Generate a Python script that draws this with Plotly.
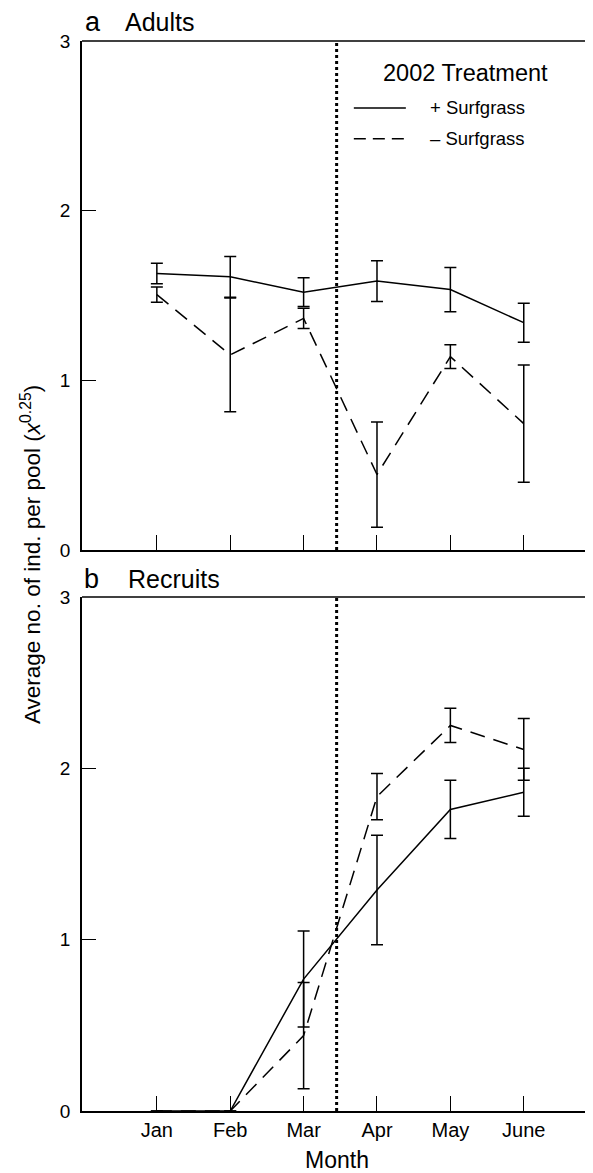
import plotly.graph_objects as go

# ---------------- data ----------------
months = ["Jan", "Feb", "Mar", "Apr", "May", "June"]
month_pos = [1, 2, 3, 4, 5, 6]
treatment_x = 3.45  # time of the 2002 treatment (dotted line)

# Panel a: Adults
adults_plus = [1.63, 1.61, 1.52, 1.585, 1.535, 1.34]
adults_plus_err = [0.06, 0.12, 0.085, 0.12, 0.13, 0.115]
adults_minus = [1.505, 1.15, 1.365, 0.445, 1.14, 0.745]
adults_minus_err = [0.045, 0.335, 0.06, 0.31, 0.07, 0.345]

# Panel b: Recruits
recruits_plus = [0.0, 0.0, 0.77, 1.29, 1.76, 1.86]
recruits_plus_err = [None, None, 0.28, 0.32, 0.17, 0.14]
recruits_minus = [0.0, 0.0, 0.44, 1.835, 2.25, 2.11]
recruits_minus_err = [None, None, 0.31, 0.135, 0.10, 0.18]

FONT = "Liberation Sans, Arial, Helvetica, sans-serif"
DASH = "15px,9px"

# page body has an 8px default margin, so the figure is drawn 8px in from the corner
OFF = 8
W, H = 593 - OFF, 1173 - OFF
PL, PR, PT, PB = 82, 592, 41, 1113   # plot area edges in the final picture

fig = go.Figure()

def add_series(y, err, dash, xa, ya):
    fig.add_trace(go.Scatter(
        x=month_pos, y=y, mode="lines",
        line=dict(color="black", width=1.5, dash=dash),
        error_y=dict(type="data", array=err, visible=True, color="black",
                     thickness=1.5, width=6),
        xaxis=xa, yaxis=ya, showlegend=False, hoverinfo="skip"))

add_series(adults_plus, adults_plus_err, "solid", "x", "y")
add_series(adults_minus, adults_minus_err, DASH, "x", "y")
add_series(recruits_plus, recruits_plus_err, "solid", "x2", "y2")
add_series(recruits_minus, recruits_minus_err, DASH, "x2", "y2")

xcommon = dict(range=[-0.02, 6.93], tickvals=month_pos, ticktext=months,
               showline=True, linecolor="black", linewidth=1.5,
               ticks="inside", ticklen=15, tickwidth=1.3, tickcolor="black",
               showgrid=False, zeroline=False,
               tickfont=dict(family=FONT, size=20, color="black"))
ycommon = dict(range=[0, 3], tickvals=[0, 1, 2, 3],
               showline=True, linecolor="black", linewidth=1.5,
               ticks="inside", ticklen=14, tickwidth=1.3, tickcolor="black",
               showgrid=False, zeroline=False, ticklabelstandoff=6,
               tickfont=dict(family=FONT, size=19, color="black"))

plot_h = PB - PT
dom_a_low = (PB - 551) / plot_h
dom_b_high = (PB - 598) / plot_h

fig.update_layout(
    width=W, height=H,
    margin=dict(l=PL - OFF, r=W - (PR - OFF), t=PT - OFF, b=H - (PB - OFF)),
    paper_bgcolor="white", plot_bgcolor="white",
    font=dict(family=FONT, color="black"),
    xaxis=dict(xcommon, anchor="y", showticklabels=False),
    yaxis=dict(ycommon, domain=[dom_a_low, 1.0], anchor="x"),
    xaxis2=dict(xcommon, anchor="y2",
                title=dict(text="Month", font=dict(family=FONT, size=23), standoff=15)),
    yaxis2=dict(ycommon, domain=[0.0, dom_b_high], anchor="x2"),
)

shapes = []
for xr, yr in (("x", "y"), ("x2", "y2")):
    shapes.append(dict(type="line", xref=f"{xr} domain", yref=f"{yr} domain",
                       x0=0, x1=1, y0=1, y1=1, line=dict(color="black", width=1.5)))
    shapes.append(dict(type="line", xref=f"{xr} domain", yref=f"{yr} domain",
                       x0=1, x1=1, y0=0, y1=1, line=dict(color="#b0b0b0", width=1)))
    shapes.append(dict(type="line", xref=xr, yref=f"{yr} domain",
                       x0=treatment_x, x1=treatment_x, y0=0, y1=1,
                       line=dict(color="black", width=3, dash="dot")))

# legend samples
shapes.append(dict(type="line", xref="x domain", yref="y domain",
                   x0=0.533, x1=0.635, y0=0.8686, y1=0.8686,
                   line=dict(color="black", width=1.5)))
shapes.append(dict(type="line", xref="x domain", yref="y domain",
                   x0=0.533, x1=0.635, y0=0.808, y1=0.808,
                   line=dict(color="black", width=1.5, dash="12px,7px")))
fig.update_layout(shapes=shapes)

def px_to_paper(px, py):
    return (px - PL) / (PR - PL), (PB - py) / plot_h

ann = []
ann.append(dict(text="2002 Treatment", xref="x domain", yref="y domain",
                x=0.751, y=0.937, showarrow=False, xanchor="center", yanchor="middle",
                font=dict(family=FONT, size=23.5)))
ann.append(dict(text="+ Surfgrass", xref="x domain", yref="y domain",
                x=0.678, y=0.8686, showarrow=False, xanchor="left", yanchor="middle",
                font=dict(family=FONT, size=18.5)))
ann.append(dict(text="\u2013 Surfgrass", xref="x domain", yref="y domain",
                x=0.678, y=0.808, showarrow=False, xanchor="left", yanchor="middle",
                font=dict(family=FONT, size=18.5)))

for letter, word, py, lx, wx in (("a", "Adults", 22, 83, 123), ("b", "Recruits", 580, 82, 126)):
    x0, y0 = px_to_paper(lx, py)
    ann.append(dict(text=letter, xref="paper", yref="paper", x=x0, y=y0,
                    showarrow=False, xanchor="left", yanchor="middle",
                    font=dict(family=FONT, size=27)))
    x1, _ = px_to_paper(wx, py)
    ann.append(dict(text=word, xref="paper", yref="paper", x=x1, y=y0,
                    showarrow=False, xanchor="left", yanchor="middle",
                    font=dict(family=FONT, size=25)))

tx, ty = px_to_paper(31, 556)
ann.append(dict(text="Average no. of ind. per pool (<i>x</i><sup>0.25</sup>)",
                xref="paper", yref="paper", x=tx, y=ty, textangle=-90,
                showarrow=False, xanchor="center", yanchor="middle",
                font=dict(family=FONT, size=22.5)))
fig.update_layout(annotations=ann)

fig.write_html("out.html")
